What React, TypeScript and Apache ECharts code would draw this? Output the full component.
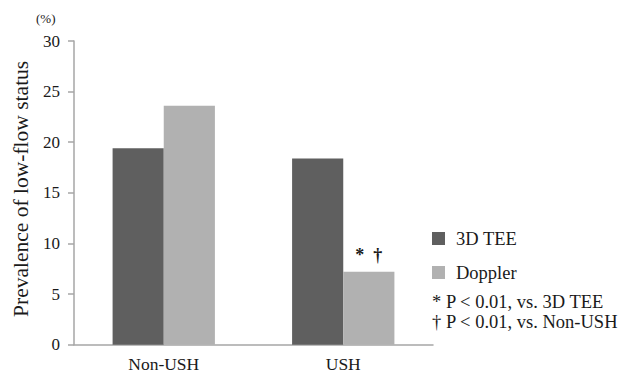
import React, { useEffect, useRef } from "react";
import * as echarts from "echarts";

const categories = ["Non-USH", "USH"];
const tee3d = [19.4, 18.4];
const doppler = [23.6, 7.2];
const yTicks = [0, 5, 10, 15, 20, 25, 30];
const seriesNames = ["3D TEE", "Doppler"];
const footnotes = ["* P < 0.01, vs. 3D TEE", "† P < 0.01, vs. Non-USH"];
const marks = ["", "*  †"];

const FONT = "Liberation Serif";
const TXT = "#1a1a1a";

export default function App() {
  const ref = useRef<HTMLDivElement>(null);
  useEffect(() => {
    if (!ref.current) return;
    const chart = echarts.init(ref.current, null, { renderer: "svg" });
    chart.setOption({
      animation: false,
      backgroundColor: "#ffffff",
      textStyle: { fontFamily: FONT, color: TXT },
      grid: { left: 74, right: 191, top: 41, bottom: 28.3, containLabel: false },
      legend: {
        orient: "vertical",
        left: 427,
        top: 224,
        itemWidth: 13,
        itemHeight: 13,
        itemGap: 15,
        icon: "rect",
        data: seriesNames,
        textStyle: { fontFamily: FONT, fontSize: 18.5, color: TXT, padding: [0, 0, 0, 6] },
      },
      xAxis: {
        type: "category",
        data: categories,
        axisLine: { lineStyle: { color: "#a6a6a6", width: 1.5 } },
        axisTick: { show: false },
        axisLabel: { fontFamily: FONT, fontSize: 17.5, color: TXT, margin: 10 },
      },
      yAxis: {
        type: "value",
        min: yTicks[0],
        max: yTicks[yTicks.length - 1],
        interval: 5,
        name: "Prevalence of low-flow status",
        nameLocation: "middle",
        nameRotate: 90,
        nameGap: 39,
        nameTextStyle: { fontFamily: FONT, fontSize: 21.5, color: TXT, padding: [0, 0, 0, 8] },
        splitLine: { show: false },
        axisLine: { show: true, lineStyle: { color: "#a6a6a6", width: 1.5 } },
        axisTick: { show: true, length: 6, lineStyle: { color: "#a6a6a6", width: 1.5 } },
        axisLabel: { fontFamily: FONT, fontSize: 17, color: TXT, margin: 14 },
      },
      series: [
        {
          name: seriesNames[0],
          type: "bar",
          data: tee3d,
          barGap: "0%",
          barCategoryGap: "43%",
          itemStyle: { color: "#5f5f5f" },
        },
        {
          name: seriesNames[1],
          type: "bar",
          data: doppler.map((v, i) => ({
            value: v,
            label: {
              show: marks[i] !== "",
              position: "top",
              distance: 8,
              formatter: marks[i],
              fontFamily: FONT,
              fontSize: 18,
              fontWeight: "bold",
              color: TXT,
            },
          })),
          itemStyle: { color: "#b1b1b1" },
        },
      ],
      graphic: [
        {
          type: "text",
          left: 36,
          top: 12,
          style: { text: "(%)", fontFamily: FONT, fontSize: 13, fill: TXT },
        },
        {
          type: "text",
          left: 432,
          top: 292.5,
          style: { text: footnotes[0], fontFamily: FONT, fontSize: 18.5, fill: TXT },
        },
        {
          type: "text",
          left: 432,
          top: 312.5,
          style: { text: footnotes[1], fontFamily: FONT, fontSize: 18.5, fill: TXT },
        },
      ],
    });
    return () => chart.dispose();
  }, []);
  return <div ref={ref} style={{ width: 624, height: 373, position: "absolute", left: 0, top: 0 }} />;
}
